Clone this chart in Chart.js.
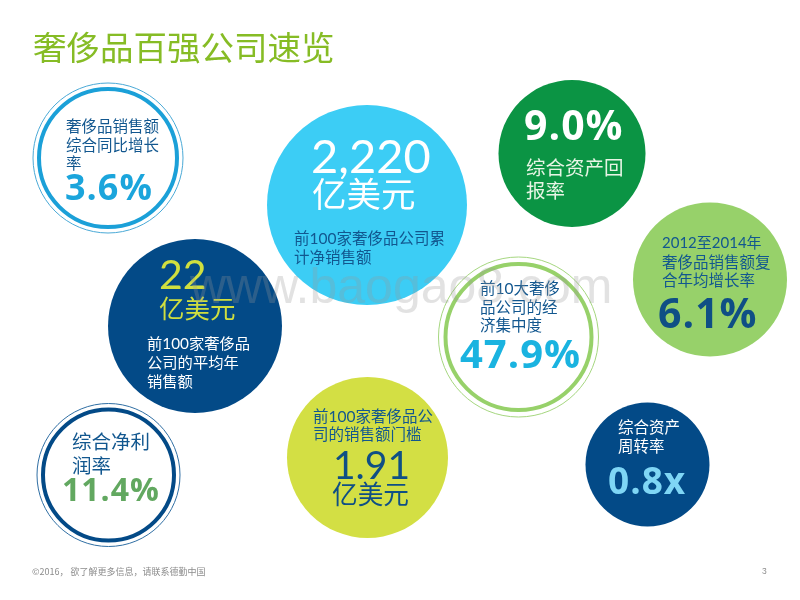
<!DOCTYPE html>
<html lang="zh-CN">
<head>
<meta charset="utf-8">
<title>奢侈品百强公司速览</title>
<script src="https://cdn.jsdelivr.net/npm/chart.js@4"></script>
<style>
  html, body { margin: 0; padding: 0; background: #fff; }
  canvas { display: block; }
</style>
</head>
<body>
<canvas id="chart" width="800" height="600"></canvas>
<script>
/* Luxury top-100 overview: every circle is a bubble point, captions are drawn by a small plugin. */

const titleText = '奢侈品百强公司速览';
const footerText = '©2016， 欲了解更多信息，请联系德勤中国';
const pageNumber = '3';
const watermarkText = 'www.baogao8.com';

// filled circles
const discX = [367, 572, 195, 367.5, 710, 647.5];
const discY = [205, 153.5, 326, 457.5, 279.5, 464.5];
const discR = [100, 73.5, 87, 80.5, 77, 62];

// double ring circles
const ringX = [108, 108.5, 518.5];
const ringY = [158, 475, 337];
const ringOuterR = [75, 71.5, 80];
const ringInnerR = [69, 65.5, 73];

const discColors = ['#3ccdf5', '#0b9444', '#034a87', '#d3df44', '#97d16a', '#034a87'];
const ringOuterColors = ['#4aa9d6', '#2f6ea3', '#a5d67f'];
const ringInnerColors = ['#1ba0d8', '#034a87', '#97d16a'];

const NAVY = '#12578f';
const CJK = '"Noto Sans CJK SC"';
const BOLD = `bold %px "Open Sans", ${CJK}`;
const PLAIN = `%px Lato, ${CJK}`;

// [text, x, y (middle), size, font, colour]
const captions = [
  ['奢侈品销售额', 66, 127, 15.5, PLAIN, NAVY],
  ['综合同比增长', 66, 146, 15.5, PLAIN, NAVY],
  ['率', 66, 164, 15.5, PLAIN, NAVY],
  ['3.6%', 65, 190, 36, BOLD, '#1ba5dc'],

  ['2,220', 311, 158, 47, PLAIN, '#ffffff'],
  ['亿美元', 312, 196, 34.5, PLAIN, '#ffffff'],
  ['前100家奢侈品公司累', 294, 239, 15.5, PLAIN, NAVY],
  ['计净销售额', 294, 258, 15.5, PLAIN, NAVY],

  ['9.0%', 524, 128, 41, BOLD, '#ffffff'],
  ['综合资产回', 526, 169, 19.5, PLAIN, '#e8f5e5'],
  ['报率', 526, 192, 19.5, PLAIN, '#e8f5e5'],

  ['22', 159, 276, 41, PLAIN, '#d0df3f'],
  ['亿美元', 159, 310, 25.5, PLAIN, '#d0df3f'],
  ['前100家奢侈品', 147, 344, 15.3, PLAIN, '#ffffff'],
  ['公司的平均年', 147, 363, 15.3, PLAIN, '#ffffff'],
  ['销售额', 147, 382, 15.3, PLAIN, '#ffffff'],

  ['综合净利', 72, 443, 19.5, PLAIN, NAVY],
  ['润率', 72, 467, 19.5, PLAIN, NAVY],
  ['11.4%', 62, 492, 32, BOLD, '#62a860'],

  ['前100家奢侈品公', 313, 417, 15.5, PLAIN, NAVY],
  ['司的销售额门槛', 313, 435, 15.5, PLAIN, NAVY],
  ['1.91', 333, 466, 39, PLAIN, '#0f4f85'],
  ['亿美元', 332, 496, 25.7, PLAIN, '#0f4f85'],

  ['前10大奢侈', 480, 289, 15.5, PLAIN, NAVY],
  ['品公司的经', 480, 308, 15.5, PLAIN, NAVY],
  ['济集中度', 480, 326, 15.5, PLAIN, NAVY],
  ['47.9%', 460, 357, 40, BOLD, '#1ab3e0'],

  ['2012至2014年', 662, 243, 15, PLAIN, NAVY],
  ['奢侈品销售额复', 662, 263, 15.5, PLAIN, NAVY],
  ['合年均增长率', 662, 281, 15.5, PLAIN, NAVY],
  ['6.1%', 658, 316, 41, BOLD, '#0f4f85'],

  ['综合资产', 618, 428, 15.5, PLAIN, '#ffffff'],
  ['周转率', 618, 447, 15.5, PLAIN, '#ffffff'],
  ['0.8x', 608, 483, 37, BOLD, '#7fd6f5'],
];

function points(xs, ys, rs) {
  return xs.map((x, i) => ({ x, y: ys[i], r: rs[i] }));
}

const textPlugin = {
  id: 'textPlugin',
  afterDatasetsDraw(chart) {
    const { ctx, scales } = chart;
    const put = (text, x, y, font, color, baseline) => {
      ctx.font = font;
      ctx.fillStyle = color;
      ctx.textBaseline = baseline || 'middle';
      ctx.fillText(text, scales.x.getPixelForValue(x), scales.y.getPixelForValue(y));
    };
    ctx.save();
    ctx.textAlign = 'left';
    put(titleText, 33, 47, `33.5px ${CJK}`, '#86bc25');
    for (const [text, x, y, size, font, color] of captions) {
      // the big figures are set a little loose in the original
      ctx.letterSpacing = font === BOLD ? '1px' : '0px';
      put(text, x, y, font.replace('%', size), color);
    }
    ctx.letterSpacing = '0px';
    put(footerText, 32, 572, `9px ${CJK}`, '#8c8c8c');
    put(pageNumber, 762, 572, '8.5px "Liberation Sans"', '#8c8c8c');
    // site watermark lies over everything
    put(watermarkText, 190, 303, '50px "Liberation Sans"', 'rgba(150,150,150,0.28)', 'alphabetic');
    ctx.restore();
  },
};

new Chart(document.getElementById('chart'), {
  type: 'bubble',
  data: {
    // first dataset is painted last, so the inner ring goes first
    datasets: [
      {
        data: points(ringX, ringY, ringInnerR),
        radius: 0,
        backgroundColor: '#ffffff',
        borderColor: ringInnerColors,
        borderWidth: 4,
        clip: false,
      },
      {
        data: points(ringX, ringY, ringOuterR),
        radius: 0,
        backgroundColor: '#ffffff',
        borderColor: ringOuterColors,
        borderWidth: 1,
        clip: false,
      },
      {
        data: points(discX, discY, discR),
        radius: 0,
        backgroundColor: discColors,
        borderWidth: 0,
        clip: false,
      },
    ],
  },
  options: {
    responsive: false,
    animation: false,
    events: [],
    layout: { padding: 0, autoPadding: false },
    plugins: { legend: { display: false }, tooltip: { enabled: false } },
    scales: {
      x: { type: 'linear', min: 0, max: 800, display: false },
      y: { type: 'linear', min: 0, max: 600, reverse: true, display: false },
    },
  },
  plugins: [textPlugin],
});
</script>
</body>
</html>
